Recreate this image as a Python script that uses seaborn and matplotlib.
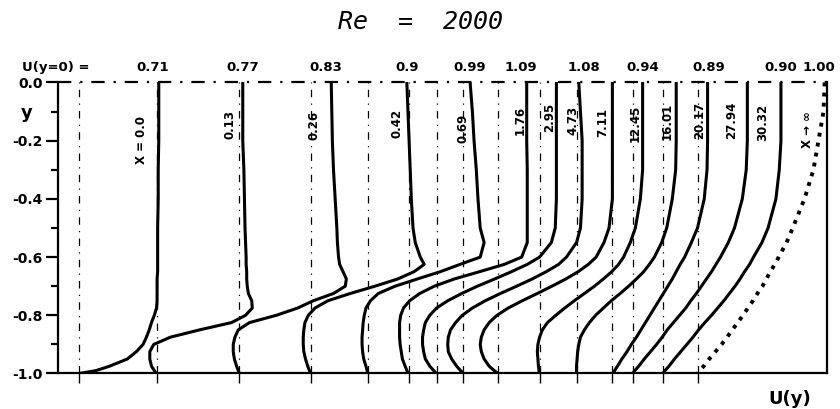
import numpy as np
import pandas as pd
import matplotlib
matplotlib.use("Agg")
import matplotlib.pyplot as plt
import seaborn as sns

# y from the centre line (0) down to the wall (-1)
y_grid = [0, -0.1, -0.2, -0.3, -0.4, -0.5, -0.55, -0.6, -0.625, -0.65, -0.675, -0.7,
          -0.725, -0.75, -0.775, -0.8, -0.825, -0.85, -0.875, -0.9, -0.925, -0.95,
          -0.975, -0.99, -1.0]

profile_names = ["X = 0.0", "0.13", "0.26", "0.42", "0.69", "1.76", "2.95", "4.73",
                 "7.11", "12.45", "16.01", "20.17", "27.94", "30.32", "X → ∞"]

# zero line of every profile along the U(y) axis
offsets = [0.19, 0.88, 1.62, 2.26, 2.77, 3.13, 3.38, 3.62, 3.93, 4.30, 4.63, 4.95, 5.13, 5.40, 5.71]

# U(y) of each profile
u_x000 = [0.71, 0.71, 0.71, 0.705, 0.705, 0.70, 0.70, 0.70, 0.70, 0.70, 0.695, 0.695, 0.695, 0.695, 0.69, 0.67, 0.645, 0.625, 0.60, 0.57, 0.51, 0.43, 0.27, 0.15, 0.0]
u_x013 = [0.77, 0.77, 0.77, 0.78, 0.785, 0.79, 0.795, 0.80, 0.80, 0.805, 0.805, 0.81, 0.82, 0.85, 0.855, 0.795, 0.67, 0.385, 0.125, -0.025, -0.06, -0.06, -0.045, -0.02, 0.0]
u_x026 = [0.82, 0.825, 0.83, 0.84, 0.855, 0.87, 0.875, 0.885, 0.895, 0.925, 0.955, 0.945, 0.84, 0.66, 0.52, 0.33, 0.09, -0.01, -0.04, -0.055, -0.055, -0.045, -0.025, -0.01, 0.0]
u_x042 = [0.855, 0.865, 0.875, 0.885, 0.895, 0.91, 0.93, 0.975, 1.01, 0.92, 0.775, 0.57, 0.35, 0.15, 0.035, -0.025, -0.055, -0.065, -0.07, -0.07, -0.065, -0.05, -0.03, -0.015, 0.0]
u_x069 = [0.91, 0.93, 0.945, 0.965, 0.98, 1.0, 1.035, 1.0, 0.82, 0.645, 0.44, 0.24, 0.09, 0.02, -0.02, -0.035, -0.045, -0.05, -0.055, -0.055, -0.05, -0.04, -0.02, -0.01, 0.0]
u_x176 = [1.055, 1.055, 1.055, 1.06, 1.06, 1.06, 1.06, 1.01, 0.855, 0.635, 0.41, 0.23, 0.10, 0.01, -0.045, -0.07, -0.08, -0.08, -0.08, -0.075, -0.065, -0.055, -0.03, -0.015, 0.0]
u_x295 = [1.07, 1.07, 1.07, 1.07, 1.07, 1.06, 1.025, 0.92, 0.81, 0.67, 0.52, 0.365, 0.225, 0.10, 0.0, -0.06, -0.10, -0.115, -0.125, -0.125, -0.115, -0.10, -0.06, -0.025, 0.0]
u_x473 = [1.03, 1.045, 1.06, 1.06, 1.06, 1.045, 1.01, 0.92, 0.85, 0.74, 0.615, 0.475, 0.33, 0.195, 0.08, -0.01, -0.07, -0.115, -0.135, -0.14, -0.135, -0.105, -0.06, -0.025, 0.0]
u_x711 = [1.02, 1.02, 1.02, 1.02, 1.02, 0.99, 0.945, 0.875, 0.805, 0.715, 0.605, 0.48, 0.35, 0.215, 0.09, -0.01, -0.08, -0.125, -0.15, -0.16, -0.15, -0.125, -0.08, -0.035, 0.0]
u_x1245 = [0.92, 0.92, 0.92, 0.92, 0.90, 0.855, 0.81, 0.75, 0.705, 0.645, 0.57, 0.49, 0.40, 0.31, 0.225, 0.145, 0.07, 0.025, 0.0, -0.015, -0.02, -0.015, -0.01, -0.005, 0.0]
u_x1601 = [0.89, 0.89, 0.89, 0.885, 0.855, 0.805, 0.76, 0.695, 0.65, 0.60, 0.535, 0.465, 0.39, 0.31, 0.24, 0.17, 0.115, 0.07, 0.035, 0.02, 0.01, 0.005, 0.0, 0.0, 0.0]
u_x2017 = [0.85, 0.85, 0.85, 0.845, 0.82, 0.76, 0.705, 0.645, 0.605, 0.57, 0.535, 0.495, 0.455, 0.415, 0.375, 0.335, 0.295, 0.255, 0.215, 0.17, 0.13, 0.085, 0.045, 0.02, 0.0]
u_x2794 = [1.025, 1.025, 1.025, 1.015, 0.98, 0.91, 0.855, 0.785, 0.745, 0.705, 0.66, 0.615, 0.57, 0.52, 0.475, 0.42, 0.365, 0.31, 0.265, 0.215, 0.16, 0.105, 0.055, 0.02, 0.0]
u_x3032 = [1.055, 1.055, 1.055, 1.04, 1.01, 0.94, 0.885, 0.81, 0.775, 0.73, 0.69, 0.645, 0.595, 0.545, 0.49, 0.435, 0.375, 0.32, 0.27, 0.215, 0.16, 0.105, 0.055, 0.02, 0.0]
u_xinf = [1.135, 1.125, 1.08, 1.035, 0.955, 0.85, 0.795, 0.725, 0.69, 0.65, 0.615, 0.58, 0.535, 0.495, 0.45, 0.405, 0.36, 0.31, 0.265, 0.215, 0.16, 0.105, 0.055, 0.02, 0.0]

profiles = [u_x000, u_x013, u_x026, u_x042, u_x069, u_x176, u_x295, u_x473,
            u_x711, u_x1245, u_x1601, u_x2017, u_x2794, u_x3032, u_xinf]

# centre-line speed printed above the frame
u_centre = ["0.71", "0.77", "0.83", "0.9", "0.99", "1.09", "1.08", "0.94", "0.89", "0.90", "1.00"]

rows = []
for name, off, u in zip(profile_names, offsets, profiles):
    for yv, uv in zip(y_grid, u):
        rows.append({"profile": name, "x": off + uv, "y": yv})
df = pd.DataFrame(rows)

sns.set_style("ticks")
plt.rcParams["font.family"] = ["DejaVu Sans"]
plt.rcParams["text.color"] = "black"
plt.rcParams["xtick.color"] = "black"
plt.rcParams["ytick.color"] = "black"
plt.rcParams["axes.edgecolor"] = "black"

fig = plt.figure(figsize=(8.4, 4.09), dpi=100)
ax = fig.add_axes([0.069, 0.0868, 0.9155, 0.7115])

# dashed zero lines
for off in offsets:
    ax.plot([off, off], [-1, 0], color="black", lw=0.9, ls=(0, (6, 5, 1, 5)), zorder=1)

sns.lineplot(data=df[df.profile != "X → ∞"], x="x", y="y", units="profile",
             estimator=None, sort=False, color="black", lw=2.2, ax=ax)
sns.lineplot(data=df[df.profile == "X → ∞"], x="x", y="y", estimator=None,
             sort=False, color="black", lw=2.8, ls=(0, (1, 1.6)), ax=ax)

ax.set_xlim(0, 6.866)
ax.set_ylim(-1.0, 0.0)
ax.set_xlabel("")
ax.set_ylabel("")

# frame: solid on three sides, dash-dot along the centre line
for side in ["left", "bottom", "right"]:
    ax.spines[side].set_linewidth(1.6)
ax.spines["top"].set_visible(False)
ax.plot([0, 6.866], [0, 0], color="black", lw=1.6, ls=(0, (6, 4, 1, 4)), clip_on=False)

ax.set_yticks([0, -0.2, -0.4, -0.6, -0.8, -1.0])
ax.set_yticklabels(["0.0", "-0.2", "-0.4", "-0.6", "-0.8", "-1.0"], fontweight="bold", fontsize=10)
ax.set_yticks([-0.1, -0.3, -0.5, -0.7, -0.9], minor=True)
ax.tick_params(axis="y", which="major", length=9, width=1.6, direction="out", pad=2)
ax.tick_params(axis="y", which="minor", length=5, width=1.6, direction="out")
ax.set_xticks(offsets)
ax.set_xticklabels([])
ax.tick_params(axis="x", which="major", length=7, width=1.0, direction="out")

# profile labels
label_x = [0.75, 1.536, 2.286, 3.027, 3.616, 4.125, 4.393, 4.598, 4.866, 5.152, 5.438, 5.732, 6.018, 6.295, 6.688]
label_y = [-0.198, -0.146, -0.146, -0.139, -0.156, -0.129, -0.119, -0.129, -0.136, -0.139, -0.132, -0.132, -0.129, -0.136, -0.163]
for name, lx, ly in zip(profile_names, label_x, label_y):
    ax.text(lx, ly, name, rotation=90, ha="center", va="center", fontsize=8.5, fontweight="bold")

top_x = [0.848, 1.652, 2.393, 3.116, 3.679, 4.134, 4.696, 5.223, 5.813, 6.455, 6.795]
for lab, tx in zip(u_centre, top_x):
    ax.text(tx, 0.053, lab, ha="center", va="center", fontsize=9.5, fontweight="bold")
ax.text(-0.32, 0.053, "U(y=0) =", ha="left", va="center", fontsize=9.5, fontweight="bold")
ax.text(-0.277, -0.105, "y", ha="center", va="center", fontsize=13, fontweight="bold")
ax.text(6.536, -1.088, "U(y)", ha="center", va="center", fontsize=13, fontweight="bold")

fig.text(0.5, 0.946, "Re  =  2000", ha="center", va="center", fontsize=18,
         family="DejaVu Sans Mono", style="italic")

fig.savefig("out.png", dpi=100)
